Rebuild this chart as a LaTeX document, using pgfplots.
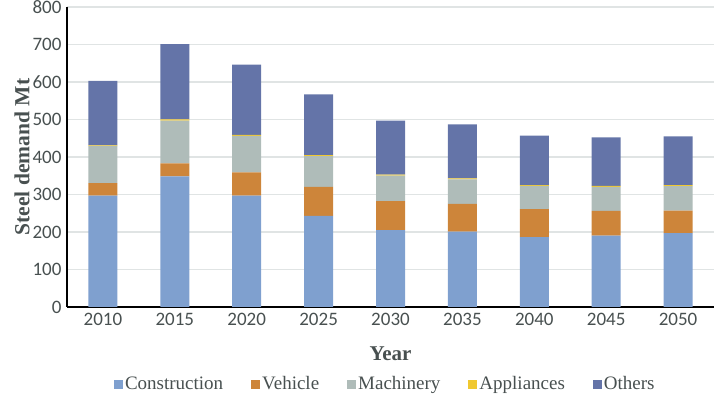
\documentclass[border=0pt]{standalone}
\usepackage{fontspec}
\setmainfont{Liberation Serif}
\newfontfamily\carlito{Carlito}
\usepackage{pgfplots}
\pgfplotsset{compat=1.18}
\definecolor{cConst}{RGB}{127,160,207}
\definecolor{cVeh}{RGB}{205,133,58}
\definecolor{cMach}{RGB}{175,188,185}
\definecolor{cApp}{RGB}{240,200,48}
\definecolor{cOth}{RGB}{100,116,168}
\definecolor{tickgray}{RGB}{72,80,80}
\definecolor{gridgray}{RGB}{224,228,228}
\begin{document}
\begin{tikzpicture}
\path[use as bounding box] (-67pt,-88pt) rectangle (647pt,307pt);
\begin{axis}[
  at={(0pt,0pt)}, anchor=south west,
  scale only axis, width=647pt, height=300pt,
  ybar stacked, bar width=29pt,
  xmin=-0.5, xmax=8.5, ymin=0, ymax=800,
  xtick=data,
  xticklabels={2010,2015,2020,2025,2030,2035,2040,2045,2050},
  ytick={0,100,...,800},
  axis x line*=bottom, axis y line*=left,
  axis line style={line width=1.6pt, black, -},
  major tick length=0pt,
  ymajorgrids, grid style={gridgray, line width=1.2pt},
  /pgf/number format/assume math mode=true,
  tick label style={font=\carlito\fontsize{19}{20}\selectfont, text=tickgray},
  xticklabel style={yshift=-3pt},
  yticklabel style={xshift=-2pt},
  xlabel={Year}, ylabel={Steel demand Mt},
  every axis x label/.style={at={(axis description cs:0.5,-0.157)}, anchor=center, font=\bfseries\fontsize{21}{24}\selectfont, text=tickgray},
  every axis y label/.style={at={(axis description cs:-0.0696,0.5)}, rotate=90, anchor=center, font=\bfseries\fontsize{21.5}{24}\selectfont, text=tickgray},
  legend style={at={(axis description cs:0.492,-0.257)}, anchor=center, draw=none, fill=none,
    font=\fontsize{19}{21}\selectfont, text=tickgray, legend columns=5,
    /tikz/every even column/.append style={column sep=26pt},
    inner sep=0pt},
  legend image code/.code={\fill[#1] (0pt,-4.5pt) rectangle (9pt,4.5pt);},
  clip=false,
]
\addplot[fill=cConst, draw=none] coordinates {(0,297) (1,348) (2,297) (3,243) (4,205) (5,201) (6,186) (7,190) (8,197)};
\addplot[fill=cVeh, draw=none] coordinates {(0,33) (1,35) (2,62) (3,77) (4,77) (5,74) (6,75) (7,66) (8,60)};
\addplot[fill=cMach, draw=none] coordinates {(0,99) (1,114) (2,97) (3,82) (4,68) (5,65) (6,62) (7,64) (8,65)};
\addplot[fill=cApp, draw=none] coordinates {(0,2) (1,3) (2,3) (3,3) (4,3) (5,3) (6,2) (7,3) (8,3)};
\addplot[fill=cOth, draw=none] coordinates {(0,172) (1,201) (2,187) (3,162) (4,144) (5,144) (6,132) (7,129) (8,130)};
\legend{Construction, Vehicle, Machinery, Appliances, Others}
\end{axis}
\end{tikzpicture}
\end{document}
